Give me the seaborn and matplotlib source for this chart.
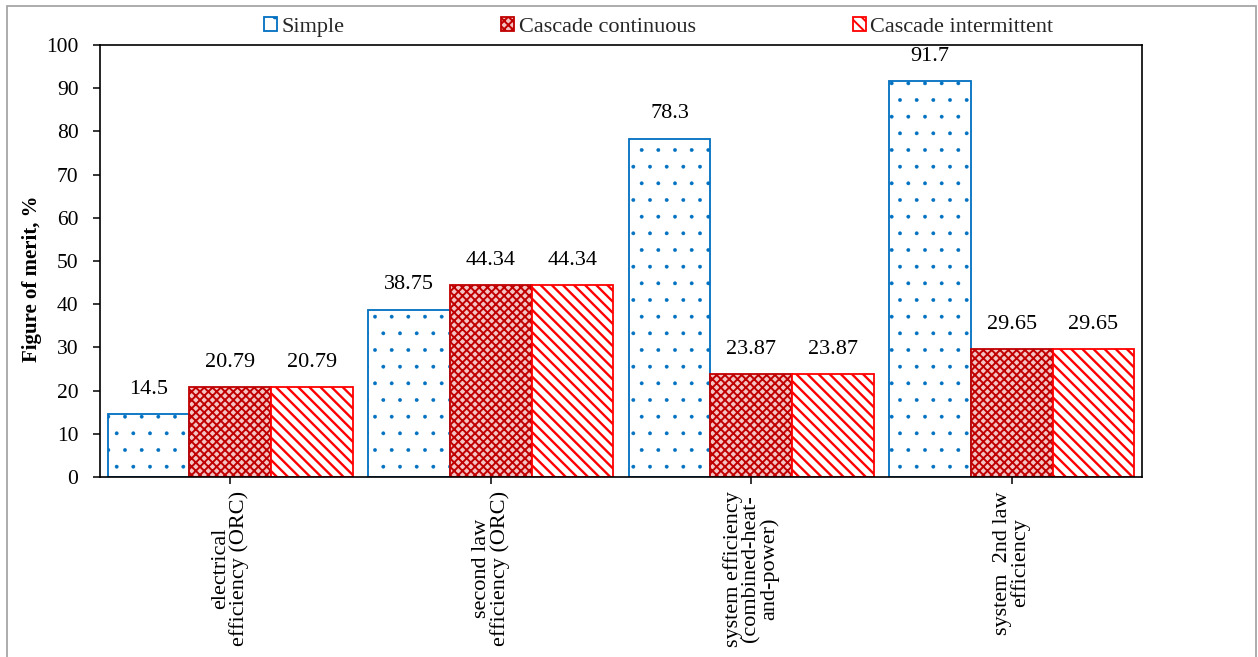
import numpy as np
import pandas as pd
import seaborn as sns
import matplotlib.pyplot as plt
from matplotlib.patches import Patch, Rectangle

# Categories and values
metrics = [
    "electrical\nefficiency (ORC)",
    "second law\nefficiency (ORC)",
    "system efficiency\n(combined-heat-\nand-power)",
    "system  2nd law\nefficiency",
]
series = ["Simple", "Cascade continuous", "Cascade intermittent"]
simple = [14.5, 38.75, 78.3, 91.7]
cascade_continuous = [20.79, 44.34, 23.87, 29.65]
cascade_intermittent = [20.79, 44.34, 23.87, 29.65]
y_ticks = list(range(0, 101, 10))

# Fill / edge / hatch styling per configuration
styles = {
    "Simple": dict(facecolor="white", edgecolor="#0070C0", hatch=".", hlw=0.3),
    "Cascade continuous": dict(facecolor="#F4C4C4", edgecolor="#C00000", hatch="xxxx", hlw=1.4),
    "Cascade intermittent": dict(facecolor="white", edgecolor="#FF0000", hatch="\\\\\\", hlw=1.7),
}

df = pd.DataFrame({
    "metric": metrics * 3,
    "config": np.repeat(series, len(metrics)),
    "value": simple + cascade_continuous + cascade_intermittent,
})

sns.set_theme(style="white")
plt.rcParams["font.family"] = ["Liberation Serif", "DejaVu Serif"]
plt.rcParams["hatch.linewidth"] = 1.4

W, H = 1258, 657
fig = plt.figure(figsize=(W / 100, H / 100), dpi=100)
ax = fig.add_axes([100 / W, 1 - 477 / H, 1042 / W, 432 / H])

sns.barplot(
    data=df, x="metric", y="value", hue="config",
    order=metrics, hue_order=series,
    palette=[styles[s]["facecolor"] for s in series],
    saturation=1, width=0.94, gap=0, linewidth=1.3,
    legend=False, ax=ax,
)


def style_patch(p, st):
    p.set_facecolor(st["facecolor"])
    p.set_edgecolor(st["edgecolor"])
    p.set_hatch(st["hatch"])
    p.set_linewidth(1.3)
    if hasattr(p, "set_hatch_linewidth"):
        p.set_hatch_linewidth(st["hlw"])


for container, name in zip(ax.containers, series):
    st = styles[name]
    for bar in container:
        style_patch(bar, st)
    ax.bar_label(container, labels=[f"{v:g}" for v in container.datavalues],
                 padding=11, fontsize=16, color="black")

ax.set_ylim(0, 100)
ax.set_yticks(y_ticks)
ax.set_xlabel("")
ax.set_ylabel("Figure of merit, %", fontsize=15, fontweight="bold", color="black")
ax.yaxis.set_label_coords(-0.0555, 0.46)

ax.set_xticks(range(len(metrics)))
ax.set_xticklabels(metrics, rotation=90, fontsize=16, linespacing=0.92,
                   ha="center", va="top", multialignment="center", color="black")
ax.tick_params(axis="x", bottom=True, direction="out", length=5, width=1.1, pad=5,
               color="black")
ax.tick_params(axis="y", left=True, direction="out", length=5, width=1.1, pad=10.5,
               labelsize=15.5, color="black", labelcolor="black")

for sp in ax.spines.values():
    sp.set_visible(True)
    sp.set_color("black")
    sp.set_linewidth(1.2)
ax.grid(False)

handles = []
for s in series:
    h = Patch(label=s)
    style_patch(h, styles[s])
    handles.append(h)
fig.legend(handles=handles, loc="center", bbox_to_anchor=(0.5235, 0.959),
           bbox_transform=fig.transFigure, ncol=3, frameon=False, fontsize=16,
           handlelength=0.6, handleheight=0.6, handletextpad=0.2,
           columnspacing=7.05, borderaxespad=0)

# Thin grey frame around the whole chart area
frame = Rectangle((7 / W, -0.1), (1256 - 7) / W, (1 - 6 / H) + 0.1,
                  transform=fig.transFigure, fill=False, edgecolor="#A6A6A6",
                  linewidth=1.3)
fig.patches.append(frame)

fig.savefig("out.png", dpi=100)
